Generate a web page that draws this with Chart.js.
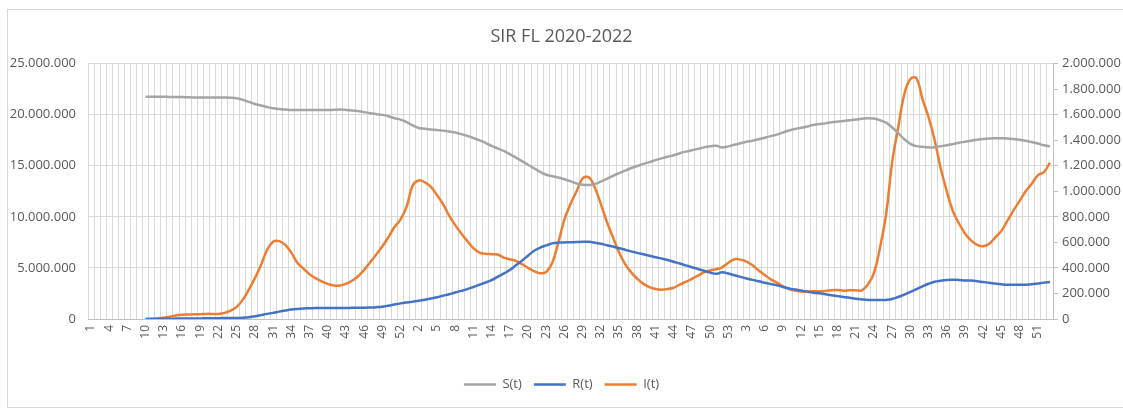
<!DOCTYPE html>
<html>
<head>
<meta charset="utf-8">
<script src="https://cdn.jsdelivr.net/npm/chart.js@4/dist/chart.umd.min.js"></script>
<style>
  html, body { margin: 0; padding: 0; background: #ffffff; }
  #wrap { position: relative; width: 1123px; height: 410px; }
</style>
</head>
<body>
<div id="wrap"><canvas id="c" width="1123" height="410"></canvas></div>
<script>
const TITLE = 'SIR FL 2020-2022';
const weeks2020 = [1,2,3,4,5,6,7,8,9,10,11,12,13,14,15,16,17,18,19,20,21,22,23,24,25,26,27,28,29,30,31,32,33,34,35,36,37,38,39,40,41,42,43,44,45,46,47,48,49,50,51,52,53];
const weeks2021 = [1,2,3,4,5,6,7,8,9,10,11,12,13,14,15,16,17,18,19,20,21,22,23,24,25,26,27,28,29,30,31,32,33,34,35,36,37,38,39,40,41,42,43,44,45,46,47,48,49,50,51,52,53];
const weeks2022 = [1,2,3,4,5,6,7,8,9,10,11,12,13,14,15,16,17,18,19,20,21,22,23,24,25,26,27,28,29,30,31,32,33,34,35,36,37,38,39,40,41,42,43,44,45,46,47,48,49,50,51,52,53];
const categories = [...weeks2020, ...weeks2021, ...weeks2022];

const seriesNames = ['S(t)', 'R(t)', 'I(t)'];

const S = [null,null,null,null,null,null,null,null,null,
21750000,21750000,21750000,21750000,21740000,21740000,21720000,21700000,21690000,21690000,
21690000,21690000,21690000,21680000,21660000,21600000,21450000,21250000,21050000,20900000,
20750000,20620000,20550000,20500000,20450000,20450000,20450000,20450000,20450000,20450000,
20450000,20480000,20500000,20470000,20420000,20350000,20250000,20150000,20050000,19980000,
19850000,19650000,19520000,19280000,18950000,18700000,18620000,18560000,18500000,18440000,
18360000,18250000,18100000,17920000,17720000,17500000,17250000,16950000,16700000,16450000,
16140000,15800000,15450000,15100000,14750000,14400000,14120000,13980000,13850000,13680000,
13480000,13270000,13150000,13120000,13220000,13450000,13720000,14020000,14280000,14520000,
14780000,14980000,15180000,15360000,15550000,15720000,15880000,16030000,16220000,16380000,
16520000,16650000,16800000,16900000,16960000,16800000,16900000,17050000,17200000,17350000,
17450000,17600000,17750000,17900000,18050000,18250000,18450000,18600000,18720000,18850000,
18980000,19080000,19150000,19250000,19320000,19380000,19450000,19520000,19600000,19660000,
19620000,19450000,19220000,18750000,18200000,17600000,17150000,16920000,16850000,16800000,
16820000,16900000,17000000,17120000,17250000,17350000,17450000,17550000,17630000,17680000,
17700000,17700000,17680000,17620000,17550000,17450000,17320000,17180000,17000000,16900000];

const R = [null,null,null,null,null,null,null,null,null,
0,0,10000,20000,30000,40000,50000,50000,60000,60000,
70000,80000,80000,90000,100000,100000,130000,180000,260000,380000,
500000,600000,720000,830000,930000,990000,1030000,1050000,1070000,1080000,
1080000,1080000,1080000,1080000,1090000,1100000,1110000,1130000,1160000,1210000,
1300000,1420000,1530000,1620000,1700000,1780000,1880000,2000000,2130000,2280000,
2420000,2600000,2750000,2920000,3130000,3350000,3570000,3800000,4130000,4450000,
4790000,5250000,5700000,6200000,6680000,6980000,7200000,7400000,7480000,7500000,
7520000,7530000,7560000,7550000,7470000,7360000,7220000,7090000,6920000,6780000,
6620000,6470000,6330000,6190000,6050000,5920000,5780000,5600000,5430000,5250000,
5070000,4900000,4720000,4550000,4420000,4570000,4450000,4280000,4120000,3970000,
3830000,3700000,3550000,3420000,3300000,3140000,3000000,2880000,2780000,2680000,
2580000,2510000,2420000,2320000,2240000,2160000,2080000,1990000,1920000,1860000,
1850000,1850000,1870000,1950000,2150000,2380000,2650000,2920000,3200000,3450000,
3650000,3750000,3820000,3850000,3820000,3780000,3760000,3700000,3620000,3550000,
3470000,3400000,3350000,3350000,3350000,3360000,3400000,3480000,3560000,3620000];

const I = [null,null,null,null,null,null,null,null,null,
0,2000,5000,10000,18000,28000,33000,35000,37000,38000,
40000,40000,40000,48000,65000,95000,150000,230000,320000,420000,
540000,605000,610000,580000,520000,440000,395000,350000,320000,295000,
275000,262000,262000,275000,300000,335000,385000,445000,505000,570000,
640000,720000,780000,880000,1045000,1085000,1070000,1035000,970000,900000,
810000,735000,670000,610000,555000,520000,510000,508000,505000,480000,
468000,455000,430000,400000,375000,358000,368000,440000,600000,780000,
900000,1000000,1100000,1110000,1030000,900000,760000,640000,520000,430000,
365000,315000,275000,250000,235000,230000,235000,245000,270000,290000,
315000,340000,365000,380000,390000,405000,440000,468000,465000,450000,
420000,380000,345000,310000,285000,255000,235000,222000,215000,215000,
217000,217000,220000,225000,227000,222000,225000,225000,225000,270000,
360000,560000,820000,1230000,1500000,1760000,1880000,1885000,1720000,1580000,
1400000,1180000,1000000,845000,750000,670000,615000,580000,570000,590000,
640000,690000,770000,850000,925000,1000000,1060000,1125000,1150000,1225000];

const leftTicks = { min: 0, max: 25000000, step: 5000000 };
const rightTicks = { min: 0, max: 2000000, step: 200000 };

function fmt(v) {
  return String(Math.round(v)).replace(/\B(?=(\d{3})+(?!\d))/g, '.');
}

const FONT = "'Open Sans', 'Liberation Sans', sans-serif";
const TXT = '#595959';
const GRID = '#d9d9d9';

const borderPlugin = {
  id: 'frame',
  beforeDraw(chart) {
    const ctx = chart.ctx;
    ctx.save();
    ctx.fillStyle = '#ffffff';
    ctx.fillRect(0, 0, chart.width, chart.height);
    ctx.strokeStyle = '#d9d9d9';
    ctx.lineWidth = 1;
    ctx.strokeRect(7.5, 9.5, 1200, 398);
    ctx.restore();
  }
};

new Chart(document.getElementById('c'), {
  type: 'line',
  data: {
    labels: categories,
    datasets: [
      { label: seriesNames[0], data: S, yAxisID: 'y', borderColor: '#A5A5A5', backgroundColor: '#A5A5A5', borderWidth: 2.5, pointRadius: 0, tension: 0.4 },
      { label: seriesNames[1], data: R, yAxisID: 'y', borderColor: '#4472C4', backgroundColor: '#4472C4', borderWidth: 2.5, pointRadius: 0, tension: 0.4 },
      { label: seriesNames[2], data: I, yAxisID: 'y2', borderColor: '#ED7D31', backgroundColor: '#ED7D31', borderWidth: 2.5, pointRadius: 0, tension: 0.4 }
    ]
  },
  options: {
    responsive: false,
    animation: false,
    devicePixelRatio: 1,
    layout: { padding: { left: 0, right: 0, top: 0, bottom: 9 } },
    plugins: {
      title: {
        display: true, text: TITLE, color: TXT,
        font: { family: FONT, size: 18, weight: 'normal' },
        padding: { top: 26, bottom: 16 }
      },
      legend: {
        position: 'bottom',
        labels: {
          usePointStyle: true, pointStyle: 'line', pointStyleWidth: 32,
          color: TXT, font: { family: FONT, size: 13 }, padding: 12
        }
      },
      tooltip: { enabled: false }
    },
    scales: {
      x: {
        type: 'category',
        offset: true,
        grid: { display: true, offset: true, color: GRID, lineWidth: 1, drawTicks: false },
        border: { display: true, color: '#bfbfbf' },
        ticks: {
          autoSkip: false, minRotation: 90, maxRotation: 90, padding: 6,
          color: TXT, font: { family: FONT, size: 12 },
          callback: function (value, index) { return index % 3 === 0 ? this.getLabelForValue(value) : ''; }
        },
        afterFit(s) { s.height = 47; }
      },
      y: {
        position: 'left',
        min: leftTicks.min, max: leftTicks.max,
        grid: { color: GRID, drawTicks: false },
        border: { display: false },
        ticks: { stepSize: leftTicks.step, padding: 12, color: TXT, font: { family: FONT, size: 13 }, callback: v => fmt(v) },
        afterFit(s) { s.width = 88; }
      },
      y2: {
        position: 'right',
        min: rightTicks.min, max: rightTicks.max,
        grid: { drawOnChartArea: false, color: '#bfbfbf', tickLength: 5 },
        border: { display: true, color: '#bfbfbf' },
        ticks: { stepSize: rightTicks.step, padding: 4, color: TXT, font: { family: FONT, size: 13 }, callback: v => fmt(v) },
        afterFit(s) { s.width = 70; }
      }
    }
  },
  plugins: [borderPlugin]
});
</script>
</body>
</html>
